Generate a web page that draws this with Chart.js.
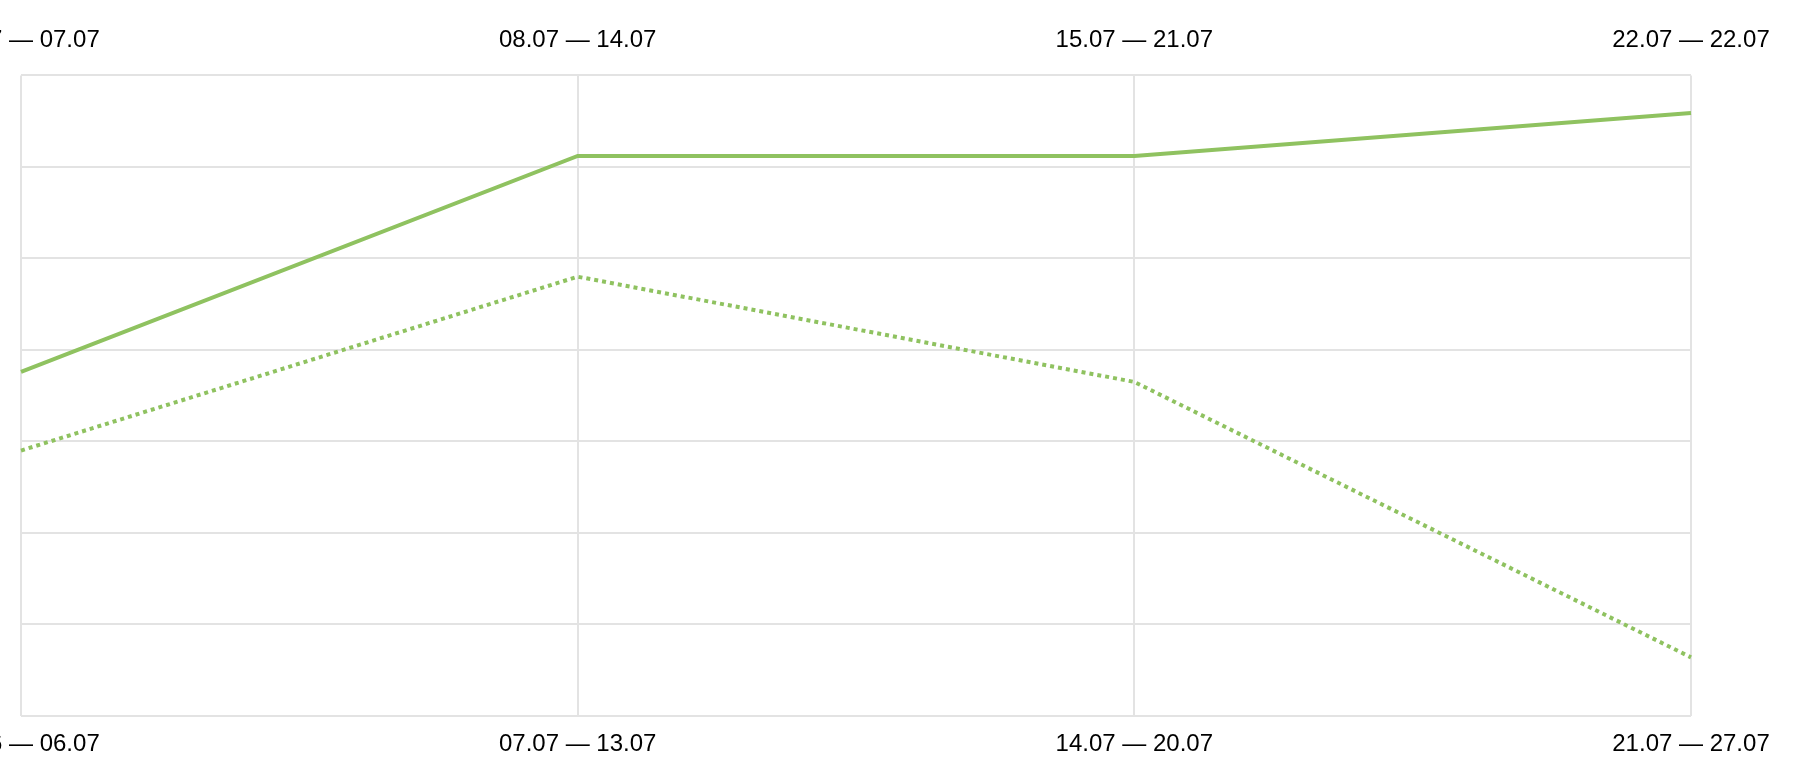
<!DOCTYPE html>
<html>
<head>
<meta charset="utf-8">
<title>Weekly comparison</title>
<script src="https://cdn.jsdelivr.net/npm/chart.js@4.4.1/dist/chart.umd.min.js"></script>
<style>
    html, body { margin: 0; padding: 0; background: #ffffff; }
    #wrap { width: 1806px; height: 782px; position: relative; }
</style>
</head>
<body>
<div id="wrap"><canvas id="weekChart"></canvas></div>
<script>
// week labels (current period on top, previous period at the bottom)
const currentWeeks = ["01.07 — 07.07", "08.07 — 14.07", "15.07 — 21.07", "22.07 — 22.07"];
const previousWeeks = ["30.06 — 06.07", "07.07 — 13.07", "14.07 — 20.07", "21.07 — 27.07"];

// values (y axis has no labels, 0..70 scale)
const currentValues = [37.6, 61.2, 61.2, 65.9];
const previousValues = [29.0, 48.0, 36.5, 6.4];

const yMin = 0;
const yMax = 70;
const yStep = 10;

const lineColor = "#8fc260";
const gridColor = "#e3e3e3";
const labelFont = { family: "'Liberation Sans', Arial, Helvetica, sans-serif", size: 24 };

// keep the first/last labels from pushing the chart area inwards
function noSidePadding(scale) {
    scale.paddingLeft = 0;
    scale.paddingRight = 0;
}

const ctx = document.getElementById("weekChart").getContext("2d");

new Chart(ctx, {
    type: "line",
    data: {
        datasets: [
            {
                label: "Current",
                data: currentValues,
                xAxisID: "xTop",
                borderColor: lineColor,
                borderWidth: 4,
                pointRadius: 0,
                tension: 0,
                fill: false
            },
            {
                label: "Previous",
                data: previousValues,
                xAxisID: "xBottom",
                borderColor: lineColor,
                borderWidth: 4,
                borderDash: [4, 4],
                pointRadius: 0,
                tension: 0,
                fill: false
            }
        ]
    },
    options: {
        responsive: true,
        maintainAspectRatio: false,
        animation: false,
        // axis heights are 2*padding + line height, so this is what is left over
        layout: { padding: { left: 21, right: 115, top: 5.4, bottom: 8.7 } },
        plugins: {
            legend: { display: false },
            tooltip: { enabled: false }
        },
        scales: {
            xTop: {
                type: "category",
                position: "top",
                labels: currentWeeks,
                offset: false,
                afterFit: noSidePadding,
                grid: { display: false, drawTicks: false },
                border: { display: false },
                ticks: { color: "#000000", font: labelFont, padding: 20.6, maxRotation: 0, autoSkip: false }
            },
            xBottom: {
                type: "category",
                position: "bottom",
                labels: previousWeeks,
                offset: false,
                afterFit: noSidePadding,
                grid: { color: gridColor, lineWidth: 2, drawTicks: false },
                border: { display: false },
                ticks: { color: "#000000", font: labelFont, padding: 14.3, maxRotation: 0, autoSkip: false }
            },
            y: {
                min: yMin,
                max: yMax,
                grid: { color: gridColor, lineWidth: 2, drawTicks: false },
                border: { display: false },
                ticks: { display: false, stepSize: yStep }
            }
        }
    }
});
</script>
</body>
</html>
